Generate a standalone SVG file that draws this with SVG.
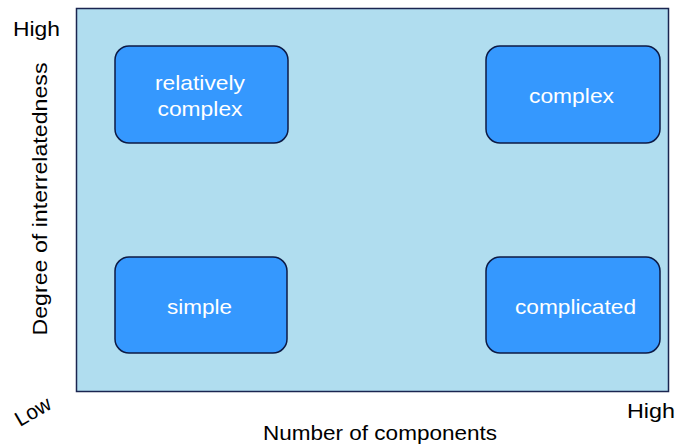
<svg xmlns="http://www.w3.org/2000/svg" width="681" height="446" viewBox="0 0 681 446">
<style>
.lbl{font-family:"Liberation Sans",Arial,sans-serif;font-size:21px;fill:#000}
.nt{font-family:"Liberation Sans",Arial,sans-serif;font-size:21px;fill:#fff;text-anchor:middle}
.node{fill:#3598fe;stroke:#0c1a45;stroke-width:1.5}
</style>
<rect x="76.5" y="8.5" width="592" height="383" fill="#b0ddef" stroke="#1a2550" stroke-width="1.5"/>
<g id="relatively-complex"><rect class="node" x="115" y="46" width="173" height="97" rx="14"/><text class="nt" x="200" y="90" textLength="90" lengthAdjust="spacingAndGlyphs">relatively</text><text class="nt" x="200" y="116" textLength="85" lengthAdjust="spacingAndGlyphs">complex</text></g>
<g id="complex"><rect class="node" x="486" y="46" width="174" height="97" rx="14"/><text class="nt" x="571.5" y="103" textLength="85" lengthAdjust="spacingAndGlyphs">complex</text></g>
<g id="simple"><rect class="node" x="115" y="257" width="172" height="96" rx="14"/><text class="nt" x="199.5" y="314" textLength="65" lengthAdjust="spacingAndGlyphs">simple</text></g>
<g id="complicated"><rect class="node" x="486" y="257" width="174" height="96" rx="14"/><text class="nt" x="575.5" y="314" textLength="121" lengthAdjust="spacingAndGlyphs">complicated</text></g>
<g id="connectors"></g>
<text class="lbl" x="13" y="36" textLength="47" lengthAdjust="spacingAndGlyphs">High</text>
<text class="lbl" x="0" y="0" text-anchor="middle" textLength="273" lengthAdjust="spacingAndGlyphs" transform="translate(47,199) rotate(-90)">Degree of interrelatedness</text>
<text class="lbl" x="0" y="0" font-size="19" textLength="38" lengthAdjust="spacingAndGlyphs" transform="translate(20,427) rotate(-30)">Low</text>
<text class="lbl" x="627" y="418" textLength="48" lengthAdjust="spacingAndGlyphs">High</text>
<text class="lbl" x="380" y="440" text-anchor="middle" textLength="234" lengthAdjust="spacingAndGlyphs">Number of components</text>
</svg>
